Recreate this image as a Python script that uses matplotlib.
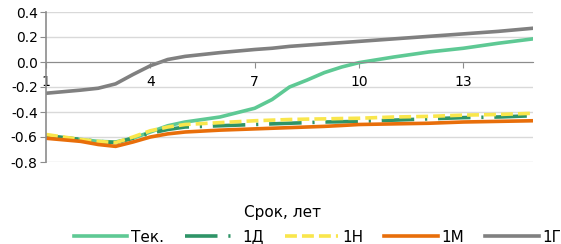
import matplotlib
matplotlib.use("Agg")
import matplotlib.pyplot as plt

# Срок, лет
years = [1, 2, 2.5, 3, 3.5, 4, 4.5, 5, 6, 7, 7.5, 8, 8.5, 9, 9.5, 10, 11, 12, 13, 14, 15]

# values
tek = [-0.59, -0.62, -0.635, -0.64, -0.61, -0.56, -0.51, -0.48, -0.44, -0.37, -0.30,
       -0.20, -0.145, -0.085, -0.04, -0.005, 0.04, 0.08, 0.11, 0.15, 0.185]
d1 = [-0.59, -0.62, -0.635, -0.645, -0.61, -0.57, -0.54, -0.52, -0.51, -0.50, -0.495,
      -0.49, -0.485, -0.48, -0.478, -0.475, -0.465, -0.455, -0.445, -0.44, -0.43]
n1 = [-0.58, -0.62, -0.635, -0.645, -0.60, -0.55, -0.52, -0.50, -0.485, -0.47, -0.465,
      -0.46, -0.457, -0.455, -0.452, -0.45, -0.44, -0.435, -0.425, -0.42, -0.41]
m1 = [-0.61, -0.635, -0.66, -0.675, -0.64, -0.60, -0.575, -0.56, -0.545, -0.535, -0.53,
      -0.525, -0.52, -0.515, -0.508, -0.50, -0.495, -0.49, -0.48, -0.475, -0.47]
g1 = [-0.25, -0.225, -0.21, -0.175, -0.10, -0.03, 0.02, 0.045, 0.075, 0.10, 0.11,
      0.125, 0.135, 0.145, 0.155, 0.165, 0.185, 0.205, 0.225, 0.245, 0.27]

series_names = ["Тек.", "1Д", "1Н", "1М", "1Г"]
colors = ["#5ec994", "#2e9467", "#f9e64c", "#e86e0a", "#808080"]

fig = plt.figure(figsize=(5.61, 2.44), dpi=100)
ax = fig.add_axes([46 / 561, 1 - 162 / 244, (533 - 46) / 561, 150 / 244])

lw = 2.6
ax.plot(years, tek, color=colors[0], lw=lw, label=series_names[0])
ax.plot(years, d1, color=colors[1], lw=lw, label=series_names[1],
        dashes=(9, 3, 0.6, 3))
ax.plot(years, n1, color=colors[2], lw=lw, label=series_names[2], dashes=(3.3, 1.4))
ax.plot(years, m1, color=colors[3], lw=lw, label=series_names[3])
ax.plot(years, g1, color=colors[4], lw=lw, label=series_names[4])

ax.set_xlim(1, 15)
ax.set_ylim(-0.8, 0.4)
ax.set_yticks([-0.8, -0.6, -0.4, -0.2, 0.0, 0.2, 0.4])
ax.set_yticklabels(["-0.8", "-0.6", "-0.4", "-0.2", "0.0", "0.2", "0.4"])
ax.set_xticks([1, 4, 7, 10, 13])
ax.grid(axis="y", color="#d9d9d9", lw=1)
ax.set_axisbelow(True)

for s in ["top", "right"]:
    ax.spines[s].set_visible(False)
ax.spines["bottom"].set_position(("data", 0))
ax.spines["bottom"].set_color("#8c8c8c")
ax.spines["left"].set_color("#8c8c8c")
ax.spines["left"].set_linewidth(1.2)
ax.tick_params(axis="y", length=4, color="#8c8c8c", labelsize=10, pad=2)
ax.tick_params(axis="x", direction="out", length=4, color="#8c8c8c", labelsize=10, pad=5)

fig.text(283 / 561, 1 - 212 / 244, "Срок, лет", ha="center", va="center", fontsize=11)

# title cut off by the top edge, only the descenders show
fig.text(52 / 561, 1 + 4 / 244, "Динамика спредов к кривой ОФЗ, п.п.",
         fontsize=12, fontweight="bold", va="baseline", ha="left")

fig.legend(loc="center left", bbox_to_anchor=(74 / 561, 1 - 237 / 244), ncol=5,
           frameon=False, fontsize=11, borderpad=0, borderaxespad=0,
           handlelength=3.5, handletextpad=0.25, columnspacing=1.37)

fig.savefig("out.png", dpi=100)
